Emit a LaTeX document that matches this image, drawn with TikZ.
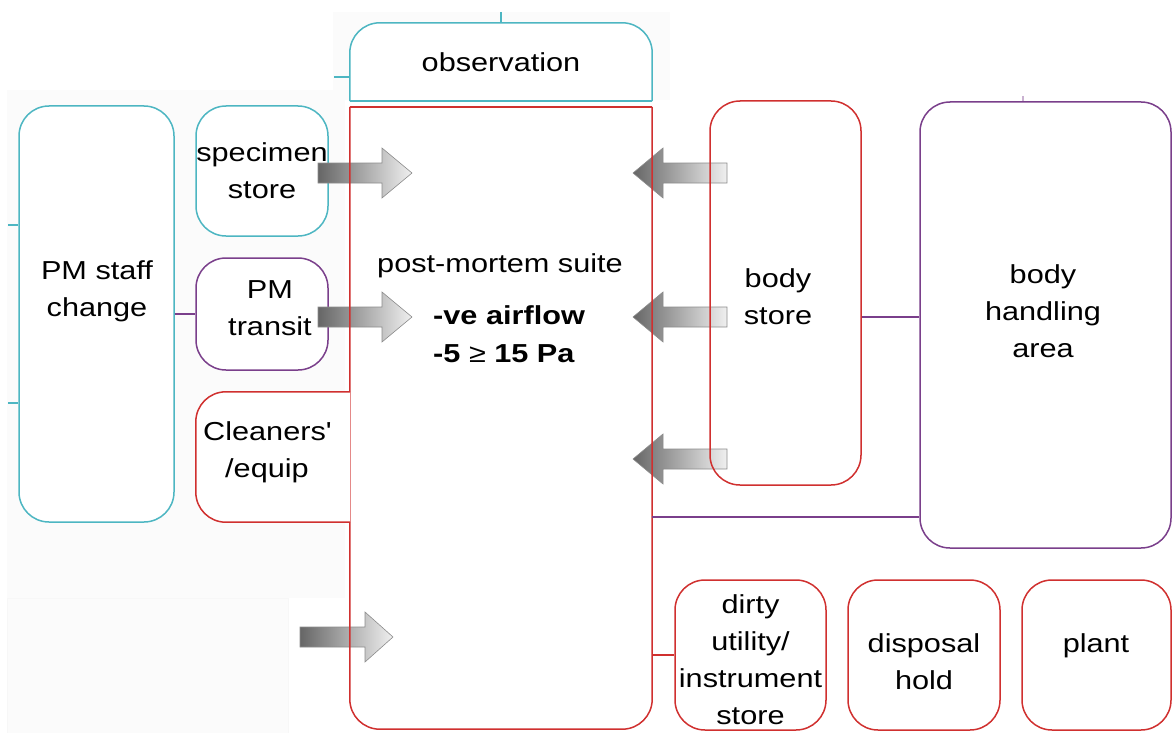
\documentclass[tikz,border=0pt]{standalone}
\usepackage{fontspec}
\setmainfont{Liberation Sans}[FakeStretch=1.18]
\usetikzlibrary{positioning}
\definecolor{wardcyan}{HTML}{4DB6C2}
\definecolor{wardred}{HTML}{D0302F}
\definecolor{wardpurple}{HTML}{7A3F8B}
\tikzset{
  room/.style={draw, fill=white, line width=1.5pt, rounded corners=30pt, inner sep=0pt},
  roomtext/.style={font=\fontsize{26}{37}\selectfont, align=center, inner sep=0pt},
  link/.style={line width=1.5pt},
  airarrow/.style={left color=black!60, right color=black!6, draw=black!45, line width=0.6pt},
}

\begin{document}
\begin{tikzpicture}[x=1pt,y=-1pt]
  \useasboundingbox (0,0) rectangle (1172,733);
  % faint panels behind the plan
  \fill[black!1.5] (7,90) rectangle (345,598);
  \fill[black!1.5] (333,12) rectangle (670,100);
  \draw[black!3, fill=black!1.5] (7,598) rectangle (288,733);

  % rooms
  \node[room, draw=wardcyan, minimum width=155pt, minimum height=416pt] (staff) at (96.5,314) {};
  \node[room, draw=wardcyan, minimum width=132pt, minimum height=130pt] (specimen) at (262,171) {};
  \node[room, draw=wardpurple, minimum width=132pt, minimum height=112pt] (transit) at (262,314) {};
  \node[room, draw=wardpurple, minimum width=251pt, minimum height=446pt] (handling) at (1045.5,325) {};
  \node[room, draw=wardred, minimum width=151pt, minimum height=150pt] (dirty) at (750.5,655) {};
  \node[room, draw=wardred, minimum width=152pt, minimum height=150pt] (disposal) at (924,655) {};
  \node[room, draw=wardred, minimum width=149pt, minimum height=150pt] (plant) at (1096.5,655) {};

  % airflow arrows
  \foreach \tail/\base/\tip/\cy in {318/382/412/173, 318/382/412/317, 300/365/393/637,
                                    727/663/633/173, 727/663/633/317, 727/663/633/459}
    \shade[airarrow] (\tail,{\cy-10}) -- (\base,{\cy-10}) -- (\base,{\cy-25}) -- (\tip,\cy)
      -- (\base,{\cy+25}) -- (\base,{\cy+10}) -- (\tail,{\cy+10}) -- cycle;

  \node[room, fill=none, draw=wardred, minimum width=151pt, minimum height=384pt] (bodystore) at (785.5,293) {};

  % rooms with only some corners rounded
  \node[minimum width=302pt, minimum height=78pt, inner sep=0pt] (obs) at (501,62) {};
  \filldraw[link, draw=wardcyan, fill=white, rounded corners=30pt]
    (obs.south west) |- (obs.north) -| (obs.south east);
  \draw[link, wardcyan] (obs.south west) -- (obs.south east);

  \node[minimum width=302pt, minimum height=622pt, inner sep=0pt] (suite) at (501,418) {};
  \draw[link, wardred, rounded corners=30pt] (suite.north west) |- (suite.south) -| (suite.north east);
  \draw[link, wardred] (suite.north west) -- (suite.north east);

  \node[minimum width=154pt, minimum height=130pt, inner sep=0pt] (cleaners) at (273,457) {};
  \filldraw[link, draw=wardred, fill=white, rounded corners=30pt]
    (cleaners.north east) -| (cleaners.west) |- (cleaners.south east);

  % labels
  \node[roomtext] (stafftext) at (97,291.5) {PM staff\\change};
  \node[roomtext] (specimentext) at (262,171) {specimen\\store};
  \node[roomtext] (transittext) at (270,308) {PM\\transit};
  \node[roomtext] (cleanerstext) at (267,452) {Cleaners\textquotesingle\\/equip};
  \node[roomtext, anchor=base] (obstext) at (501,72) {observation};
  \node[roomtext, anchor=base] (suitetext) at (500,272) {post-mortem suite};
  \node[roomtext, font=\fontsize{26}{38}\selectfont\bfseries, align=left, anchor=west] (airtext)
    at (433,334.5) {-ve airflow\\-5 {\mdseries ≥} 15 Pa};
  \node[roomtext] (bodystoretext) at (778,297) {body\\store};
  \node[roomtext] (handlingtext) at (1043,311) {body\\handling\\area};
  \node[roomtext] (dirtytext) at (750.5,660) {dirty\\utility/\\instrument\\store};
  \node[roomtext] (disposaltext) at (924,662) {disposal\\hold};
  \node[roomtext, anchor=base] (planttext) at (1096,652) {plant};

  % links
  \coordinate (obstop) at (501,12);
  \coordinate (obsside) at (334,77);
  \coordinate (staffstubA) at (8,225);
  \coordinate (staffstubB) at (8,403);
  \coordinate (storelink) at ([yshift=-24pt]bodystore.east);
  \coordinate (lowlink) at (0,517);
  \coordinate (handlingstub) at (1023,96);

  \draw[link, wardcyan] (obstop) -- (obs.north);
  \draw[link, wardcyan] (obsside) -- (obsside -| obs.west);
  \draw[link, wardcyan] (staffstubA) -- (staffstubA -| staff.west);
  \draw[link, wardcyan] (staffstubB) -- (staffstubB -| staff.west);
  \draw[link, wardpurple] (staff.east) -- (transit.west);
  \draw[link, wardpurple] (storelink) -- (storelink -| handling.west);
  \draw[link, wardpurple] (suite.east |- lowlink) -- (handling.west |- lowlink);
  \draw[link, wardred] (dirty.west -| suite.east) -- (dirty.west);
  \draw[link, wardpurple!40] (handlingstub) -- (handling.north -| handlingstub);
\end{tikzpicture}
\end{document}
